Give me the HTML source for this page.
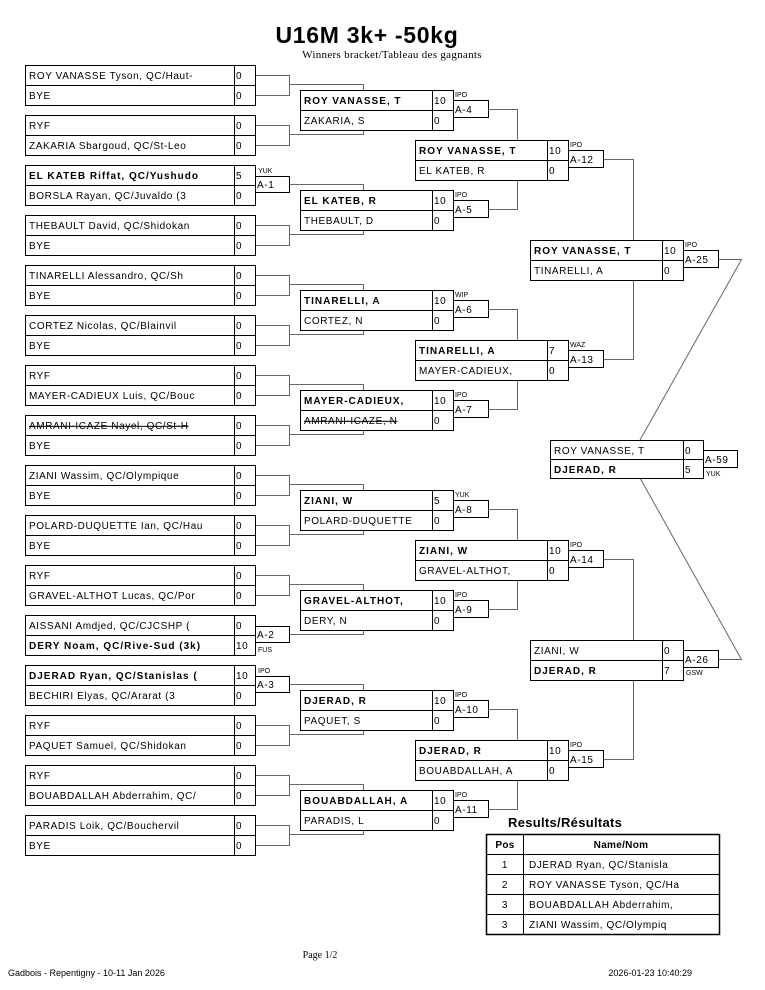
<!DOCTYPE html>
<html><head><meta charset="utf-8"><style>
html,body{margin:0;padding:0;background:#fff}
svg{display:block}
text{font-family:"Liberation Sans",sans-serif;font-size:10px;letter-spacing:.6px;fill:#000}
.b{font-weight:bold;letter-spacing:1px}
.s{font-size:7px;letter-spacing:0}
.x{text-decoration:line-through}
.bx{fill:#fff;stroke:#000;stroke-width:1}
.ln{fill:none;stroke:#666;stroke-width:1}
.dv{stroke:#000;stroke-width:1}
.ser{font-family:"Liberation Serif",serif;letter-spacing:0}
.ft{font-size:9px;letter-spacing:0}
</style></head><body>
<svg width="765" height="990" viewBox="0 0 765 990" xmlns="http://www.w3.org/2000/svg">
<text x="367" y="43" text-anchor="middle" style="font-size:23px;font-weight:bold;letter-spacing:.7px">U16M 3k+ -50kg</text>
<text x="392" y="58" text-anchor="middle" class="ser" style="font-size:11px;letter-spacing:.3px">Winners bracket/Tableau des gagnants</text>

<!-- Round 1 -->
<g id="r1">
<g transform="translate(0,65)"><path class="ln" d="M255 10.5H289.5V30.5H255M289.5 19.5H363.5V25"/><rect class="bx" x="25.5" y="0.5" width="230" height="40"/><path class="dv" d="M25 20.5H255M234.5 0V40"/><text x="29" y="14">ROY VANASSE Tyson, QC/Haut-</text><text x="29" y="34">BYE</text><text x="236" y="14">0</text><text x="236" y="34">0</text></g>
<g transform="translate(0,115)"><path class="ln" d="M255 10.5H289.5V30.5H255M289.5 19.5H363.5V15"/><rect class="bx" x="25.5" y="0.5" width="230" height="40"/><path class="dv" d="M25 20.5H255M234.5 0V40"/><text x="29" y="14">RYF</text><text x="29" y="34">ZAKARIA Sbargoud, QC/St-Leo</text><text x="236" y="14">0</text><text x="236" y="34">0</text></g>
<g transform="translate(0,165)"><path class="ln" d="M289.5 19.5H363.5V25"/><rect class="bx" x="255.5" y="11.5" width="34" height="16"/><text x="257" y="23">A-1</text><text class="s" x="258" y="8">YUK</text><rect class="bx" x="25.5" y="0.5" width="230" height="40"/><path class="dv" d="M25 20.5H255M234.5 0V40"/><text class="b" x="29" y="14">EL KATEB Riffat, QC/Yushudo</text><text x="29" y="34">BORSLA Rayan, QC/Juvaldo (3</text><text x="236" y="14">5</text><text x="236" y="34">0</text></g>
<g transform="translate(0,215)"><path class="ln" d="M255 10.5H289.5V30.5H255M289.5 19.5H363.5V15"/><rect class="bx" x="25.5" y="0.5" width="230" height="40"/><path class="dv" d="M25 20.5H255M234.5 0V40"/><text x="29" y="14">THEBAULT David, QC/Shidokan</text><text x="29" y="34">BYE</text><text x="236" y="14">0</text><text x="236" y="34">0</text></g>
<g transform="translate(0,265)"><path class="ln" d="M255 10.5H289.5V30.5H255M289.5 19.5H363.5V25"/><rect class="bx" x="25.5" y="0.5" width="230" height="40"/><path class="dv" d="M25 20.5H255M234.5 0V40"/><text x="29" y="14">TINARELLI Alessandro, QC/Sh</text><text x="29" y="34">BYE</text><text x="236" y="14">0</text><text x="236" y="34">0</text></g>
<g transform="translate(0,315)"><path class="ln" d="M255 10.5H289.5V30.5H255M289.5 19.5H363.5V15"/><rect class="bx" x="25.5" y="0.5" width="230" height="40"/><path class="dv" d="M25 20.5H255M234.5 0V40"/><text x="29" y="14">CORTEZ Nicolas, QC/Blainvil</text><text x="29" y="34">BYE</text><text x="236" y="14">0</text><text x="236" y="34">0</text></g>
<g transform="translate(0,365)"><path class="ln" d="M255 10.5H289.5V30.5H255M289.5 19.5H363.5V25"/><rect class="bx" x="25.5" y="0.5" width="230" height="40"/><path class="dv" d="M25 20.5H255M234.5 0V40"/><text x="29" y="14">RYF</text><text x="29" y="34">MAYER-CADIEUX Luis, QC/Bouc</text><text x="236" y="14">0</text><text x="236" y="34">0</text></g>
<g transform="translate(0,415)"><path class="ln" d="M255 10.5H289.5V30.5H255M289.5 19.5H363.5V15"/><rect class="bx" x="25.5" y="0.5" width="230" height="40"/><path class="dv" d="M25 20.5H255M234.5 0V40"/><text class="x" x="29" y="14">AMRANI-ICAZE Nayel, QC/St-H</text><text x="29" y="34">BYE</text><text x="236" y="14">0</text><text x="236" y="34">0</text></g>
<g transform="translate(0,465)"><path class="ln" d="M255 10.5H289.5V30.5H255M289.5 19.5H363.5V25"/><rect class="bx" x="25.5" y="0.5" width="230" height="40"/><path class="dv" d="M25 20.5H255M234.5 0V40"/><text x="29" y="14">ZIANI Wassim, QC/Olympique</text><text x="29" y="34">BYE</text><text x="236" y="14">0</text><text x="236" y="34">0</text></g>
<g transform="translate(0,515)"><path class="ln" d="M255 10.5H289.5V30.5H255M289.5 19.5H363.5V15"/><rect class="bx" x="25.5" y="0.5" width="230" height="40"/><path class="dv" d="M25 20.5H255M234.5 0V40"/><text x="29" y="14">POLARD-DUQUETTE Ian, QC/Hau</text><text x="29" y="34">BYE</text><text x="236" y="14">0</text><text x="236" y="34">0</text></g>
<g transform="translate(0,565)"><path class="ln" d="M255 10.5H289.5V30.5H255M289.5 19.5H363.5V25"/><rect class="bx" x="25.5" y="0.5" width="230" height="40"/><path class="dv" d="M25 20.5H255M234.5 0V40"/><text x="29" y="14">RYF</text><text x="29" y="34">GRAVEL-ALTHOT Lucas, QC/Por</text><text x="236" y="14">0</text><text x="236" y="34">0</text></g>
<g transform="translate(0,615)"><path class="ln" d="M289.5 19.5H363.5V15"/><rect class="bx" x="255.5" y="11.5" width="34" height="16"/><text x="257" y="23">A-2</text><text class="s" x="258" y="37">FUS</text><rect class="bx" x="25.5" y="0.5" width="230" height="40"/><path class="dv" d="M25 20.5H255M234.5 0V40"/><text x="29" y="14">AISSANI Amdjed, QC/CJCSHP (</text><text class="b" x="29" y="34">DERY Noam, QC/Rive-Sud (3k)</text><text x="236" y="14">0</text><text x="236" y="34">10</text></g>
<g transform="translate(0,665)"><path class="ln" d="M289.5 19.5H363.5V25"/><rect class="bx" x="255.5" y="11.5" width="34" height="16"/><text x="257" y="23">A-3</text><text class="s" x="258" y="8">IPO</text><rect class="bx" x="25.5" y="0.5" width="230" height="40"/><path class="dv" d="M25 20.5H255M234.5 0V40"/><text class="b" x="29" y="14">DJERAD Ryan, QC/Stanislas (</text><text x="29" y="34">BECHIRI Elyas, QC/Ararat (3</text><text x="236" y="14">10</text><text x="236" y="34">0</text></g>
<g transform="translate(0,715)"><path class="ln" d="M255 10.5H289.5V30.5H255M289.5 19.5H363.5V15"/><rect class="bx" x="25.5" y="0.5" width="230" height="40"/><path class="dv" d="M25 20.5H255M234.5 0V40"/><text x="29" y="14">RYF</text><text x="29" y="34">PAQUET Samuel, QC/Shidokan</text><text x="236" y="14">0</text><text x="236" y="34">0</text></g>
<g transform="translate(0,765)"><path class="ln" d="M255 10.5H289.5V30.5H255M289.5 19.5H363.5V25"/><rect class="bx" x="25.5" y="0.5" width="230" height="40"/><path class="dv" d="M25 20.5H255M234.5 0V40"/><text x="29" y="14">RYF</text><text x="29" y="34">BOUABDALLAH Abderrahim, QC/</text><text x="236" y="14">0</text><text x="236" y="34">0</text></g>
<g transform="translate(0,815)"><path class="ln" d="M255 10.5H289.5V30.5H255M289.5 19.5H363.5V15"/><rect class="bx" x="25.5" y="0.5" width="230" height="40"/><path class="dv" d="M25 20.5H255M234.5 0V40"/><text x="29" y="14">PARADIS Loik, QC/Bouchervil</text><text x="29" y="34">BYE</text><text x="236" y="14">0</text><text x="236" y="34">0</text></g>
</g>

<!-- Round 2 -->
<g transform="translate(0,90)"><path class="ln" d="M488.5 19.5H517.5V50"/><rect class="bx" x="300.5" y="0.5" width="153" height="40"/><path class="dv" d="M300 20.5H453M432.5 0V40"/><rect class="bx" x="453.5" y="10.5" width="35" height="17"/><text x="455" y="23">A-4</text><text class="s" x="455" y="7">IPO</text><text class="b" x="304" y="14">ROY VANASSE, T</text><text x="304" y="34">ZAKARIA, S</text><text x="434" y="14">10</text><text x="434" y="34">0</text></g>
<g transform="translate(0,190)"><path class="ln" d="M488.5 19.5H517.5V-10"/><rect class="bx" x="300.5" y="0.5" width="153" height="40"/><path class="dv" d="M300 20.5H453M432.5 0V40"/><rect class="bx" x="453.5" y="10.5" width="35" height="17"/><text x="455" y="23">A-5</text><text class="s" x="455" y="7">IPO</text><text class="b" x="304" y="14">EL KATEB, R</text><text x="304" y="34">THEBAULT, D</text><text x="434" y="14">10</text><text x="434" y="34">0</text></g>
<g transform="translate(0,290)"><path class="ln" d="M488.5 19.5H517.5V50"/><rect class="bx" x="300.5" y="0.5" width="153" height="40"/><path class="dv" d="M300 20.5H453M432.5 0V40"/><rect class="bx" x="453.5" y="10.5" width="35" height="17"/><text x="455" y="23">A-6</text><text class="s" x="455" y="7">WIP</text><text class="b" x="304" y="14">TINARELLI, A</text><text x="304" y="34">CORTEZ, N</text><text x="434" y="14">10</text><text x="434" y="34">0</text></g>
<g transform="translate(0,390)"><path class="ln" d="M488.5 19.5H517.5V-10"/><rect class="bx" x="300.5" y="0.5" width="153" height="40"/><path class="dv" d="M300 20.5H453M432.5 0V40"/><rect class="bx" x="453.5" y="10.5" width="35" height="17"/><text x="455" y="23">A-7</text><text class="s" x="455" y="7">IPO</text><text class="b" x="304" y="14">MAYER-CADIEUX,</text><text class="x" x="304" y="34">AMRANI-ICAZE, N</text><text x="434" y="14">10</text><text x="434" y="34">0</text></g>
<g transform="translate(0,490)"><path class="ln" d="M488.5 19.5H517.5V50"/><rect class="bx" x="300.5" y="0.5" width="153" height="40"/><path class="dv" d="M300 20.5H453M432.5 0V40"/><rect class="bx" x="453.5" y="10.5" width="35" height="17"/><text x="455" y="23">A-8</text><text class="s" x="455" y="7">YUK</text><text class="b" x="304" y="14">ZIANI, W</text><text x="304" y="34">POLARD-DUQUETTE</text><text x="434" y="14">5</text><text x="434" y="34">0</text></g>
<g transform="translate(0,590)"><path class="ln" d="M488.5 19.5H517.5V-10"/><rect class="bx" x="300.5" y="0.5" width="153" height="40"/><path class="dv" d="M300 20.5H453M432.5 0V40"/><rect class="bx" x="453.5" y="10.5" width="35" height="17"/><text x="455" y="23">A-9</text><text class="s" x="455" y="7">IPO</text><text class="b" x="304" y="14">GRAVEL-ALTHOT,</text><text x="304" y="34">DERY, N</text><text x="434" y="14">10</text><text x="434" y="34">0</text></g>
<g transform="translate(0,690)"><path class="ln" d="M488.5 19.5H517.5V50"/><rect class="bx" x="300.5" y="0.5" width="153" height="40"/><path class="dv" d="M300 20.5H453M432.5 0V40"/><rect class="bx" x="453.5" y="10.5" width="35" height="17"/><text x="455" y="23">A-10</text><text class="s" x="455" y="7">IPO</text><text class="b" x="304" y="14">DJERAD, R</text><text x="304" y="34">PAQUET, S</text><text x="434" y="14">10</text><text x="434" y="34">0</text></g>
<g transform="translate(0,790)"><path class="ln" d="M488.5 19.5H517.5V-10"/><rect class="bx" x="300.5" y="0.5" width="153" height="40"/><path class="dv" d="M300 20.5H453M432.5 0V40"/><rect class="bx" x="453.5" y="10.5" width="35" height="17"/><text x="455" y="23">A-11</text><text class="s" x="455" y="7">IPO</text><text class="b" x="304" y="14">BOUABDALLAH, A</text><text x="304" y="34">PARADIS, L</text><text x="434" y="14">10</text><text x="434" y="34">0</text></g>

<!-- Round 3 -->
<g transform="translate(0,140)"><path class="ln" d="M603.5 19.5H633.5V100"/><rect class="bx" x="415.5" y="0.5" width="153" height="40"/><path class="dv" d="M415 20.5H568M547.5 0V40"/><rect class="bx" x="568.5" y="10.5" width="35" height="17"/><text x="570" y="23">A-12</text><text class="s" x="570" y="7">IPO</text><text class="b" x="419" y="14">ROY VANASSE, T</text><text x="419" y="34">EL KATEB, R</text><text x="549" y="14">10</text><text x="549" y="34">0</text></g>
<g transform="translate(0,340)"><path class="ln" d="M603.5 19.5H633.5V-60"/><rect class="bx" x="415.5" y="0.5" width="153" height="40"/><path class="dv" d="M415 20.5H568M547.5 0V40"/><rect class="bx" x="568.5" y="10.5" width="35" height="17"/><text x="570" y="23">A-13</text><text class="s" x="570" y="7">WAZ</text><text class="b" x="419" y="14">TINARELLI, A</text><text x="419" y="34">MAYER-CADIEUX,</text><text x="549" y="14">7</text><text x="549" y="34">0</text></g>
<g transform="translate(0,540)"><path class="ln" d="M603.5 19.5H633.5V100"/><rect class="bx" x="415.5" y="0.5" width="153" height="40"/><path class="dv" d="M415 20.5H568M547.5 0V40"/><rect class="bx" x="568.5" y="10.5" width="35" height="17"/><text x="570" y="23">A-14</text><text class="s" x="570" y="7">IPO</text><text class="b" x="419" y="14">ZIANI, W</text><text x="419" y="34">GRAVEL-ALTHOT,</text><text x="549" y="14">10</text><text x="549" y="34">0</text></g>
<g transform="translate(0,740)"><path class="ln" d="M603.5 19.5H633.5V-60"/><rect class="bx" x="415.5" y="0.5" width="153" height="40"/><path class="dv" d="M415 20.5H568M547.5 0V40"/><rect class="bx" x="568.5" y="10.5" width="35" height="17"/><text x="570" y="23">A-15</text><text class="s" x="570" y="7">IPO</text><text class="b" x="419" y="14">DJERAD, R</text><text x="419" y="34">BOUABDALLAH, A</text><text x="549" y="14">10</text><text x="549" y="34">0</text></g>

<!-- Round 4 -->
<g transform="translate(0,240)"><path class="ln" d="M718.5 19.5H741.5L640 200"/><rect class="bx" x="530.5" y="0.5" width="153" height="40"/><path class="dv" d="M530 20.5H683M662.5 0V40"/><rect class="bx" x="683.5" y="10.5" width="35" height="17"/><text x="685" y="23">A-25</text><text class="s" x="685" y="7">IPO</text><text class="b" x="534" y="14">ROY VANASSE, T</text><text x="534" y="34">TINARELLI, A</text><text x="664" y="14">10</text><text x="664" y="34">0</text></g>
<g transform="translate(0,640)"><path class="ln" d="M718.5 19.5H741.5L640 -162"/><rect class="bx" x="530.5" y="0.5" width="153" height="40"/><path class="dv" d="M530 20.5H683M662.5 0V40"/><rect class="bx" x="683.5" y="10.5" width="35" height="17"/><text x="685" y="23">A-26</text><text class="s" x="686" y="35">GSW</text><text x="534" y="14">ZIANI, W</text><text class="b" x="534" y="34">DJERAD, R</text><text x="664" y="14">0</text><text x="664" y="34">7</text></g>

<!-- Final -->
<g transform="translate(0,440)"><rect class="bx" x="550.5" y="0.5" width="153" height="38"/><path class="dv" d="M550 19.5H703M683.5 0V38"/><rect class="bx" x="703.5" y="10.5" width="34" height="17"/><text x="705" y="23">A-59</text><text class="s" x="706" y="36">YUK</text><text x="554" y="14">ROY VANASSE, T</text><text class="b" x="554" y="33">DJERAD, R</text><text x="685" y="14">0</text><text x="685" y="33">5</text></g>

<!-- Results -->
<text x="508" y="827" style="font-size:13px;font-weight:bold;letter-spacing:.3px">Results/Résultats</text>
<rect x="486.5" y="834.5" width="233" height="100" fill="#fff" stroke="#000" stroke-width="1.5"/>
<path class="dv" d="M486 854.5H719M486 874.5H719M486 894.5H719M486 914.5H719M523.5 834V934"/>
<text x="505" y="848" text-anchor="middle" style="font-weight:bold;letter-spacing:.3px">Pos</text>
<text x="621" y="848" text-anchor="middle" style="font-weight:bold;letter-spacing:.3px">Name/Nom</text>
<text x="505" y="868" text-anchor="middle">1</text><text x="529" y="868">DJERAD Ryan, QC/Stanisla</text>
<text x="505" y="888" text-anchor="middle">2</text><text x="529" y="888">ROY VANASSE Tyson, QC/Ha</text>
<text x="505" y="908" text-anchor="middle">3</text><text x="529" y="908">BOUABDALLAH Abderrahim,</text>
<text x="505" y="928" text-anchor="middle">3</text><text x="529" y="928">ZIANI Wassim, QC/Olympiq</text>

<!-- Footer -->
<text x="320" y="958" text-anchor="middle" class="ser" style="font-size:10px">Page 1/2</text>
<text x="8" y="976" class="ft">Gadbois - Repentigny - 10-11 Jan 2026</text>
<text x="692" y="976" class="ft" text-anchor="end">2026-01-23 10:40:29</text>
</svg>
</body></html>
